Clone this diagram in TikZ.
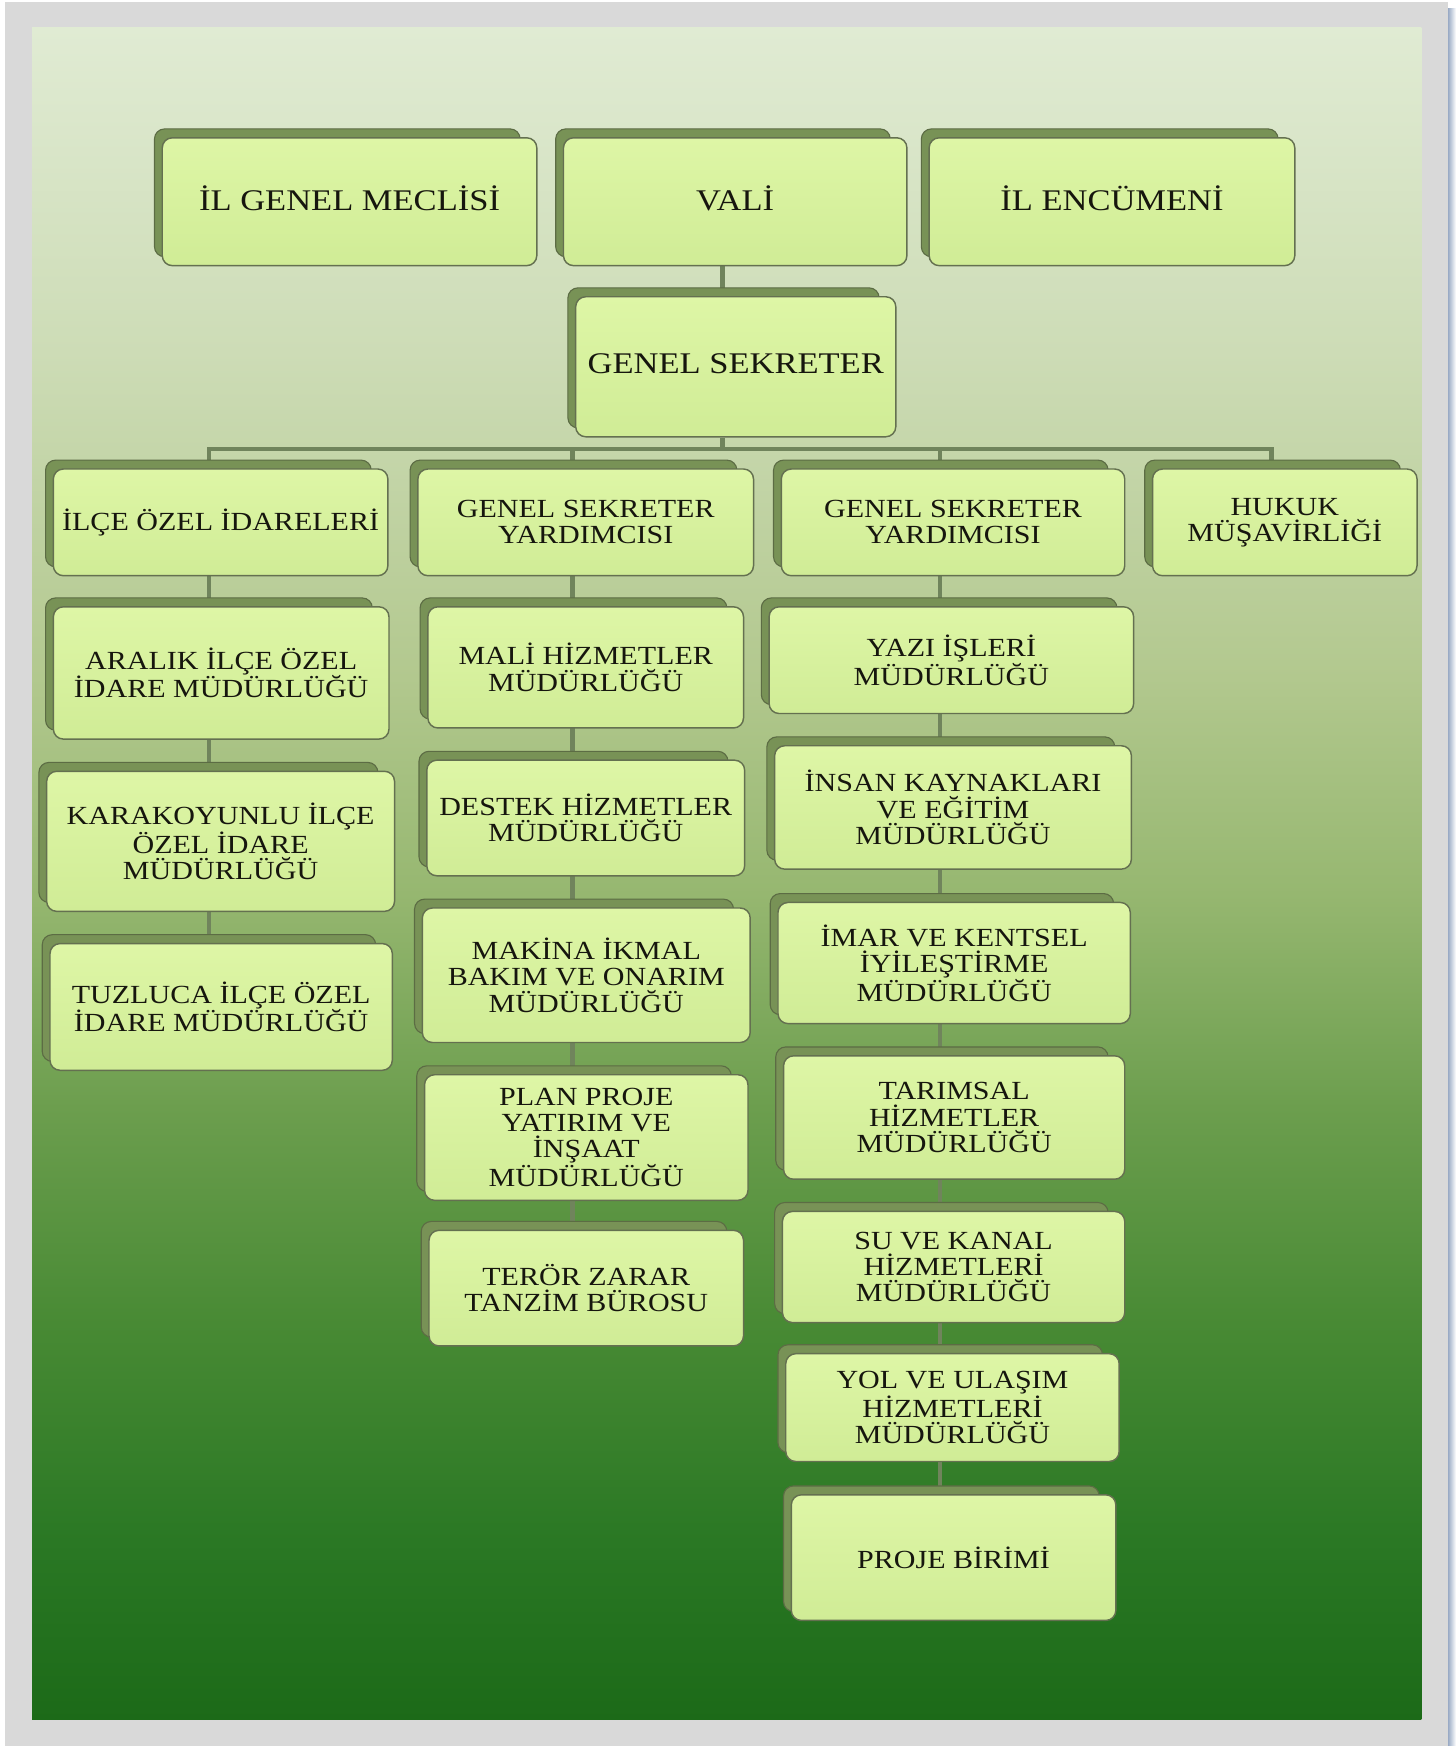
\documentclass[tikz,border=0pt]{standalone}
\usepackage{fontspec}
\setmainfont{Liberation Serif}[FakeStretch=1.15]
\usetikzlibrary{fit}
\definecolor{g1}{RGB}{224,235,211}
\definecolor{g2}{RGB}{205,220,182}
\definecolor{g3}{RGB}{178,200,142}
\definecolor{g4}{RGB}{150,183,112}
\definecolor{g5}{RGB}{108,158,78}
\definecolor{g6}{RGB}{72,138,52}
\definecolor{g7}{RGB}{42,120,36}
\definecolor{g8}{RGB}{28,106,24}
\definecolor{framegray}{RGB}{217,217,217}
\definecolor{edgeblue}{RGB}{155,172,198}
\definecolor{boxtop}{RGB}{222,246,166}
\definecolor{boxbot}{RGB}{208,236,150}
\definecolor{boxline}{RGB}{100,112,80}
\definecolor{backfill}{RGB}{120,146,86}
\definecolor{backline}{RGB}{92,108,68}
\definecolor{connc}{RGB}{112,132,92}
\definecolor{textc}{RGB}{22,22,14}
\pgfdeclareverticalshading{panelshade}{100bp}{color(0bp)=(g8); color(25bp)=(g8); color(30.3bp)=(g7); color(36.7bp)=(g6); color(43.1bp)=(g5); color(49.4bp)=(g4); color(55.8bp)=(g3); color(65.4bp)=(g2); color(75bp)=(g1); color(100bp)=(g1)}
\pgfdeclarelayer{bg}
\pgfsetlayers{bg,main}
\tikzset{
  frontbox/.style={draw=boxline, line width=1.3pt, rounded corners=9pt, top color=boxtop, bottom color=boxbot, inner sep=0pt},
  bigtext/.style={font=\fontsize{27}{28}\selectfont, align=center, text=textc, inner sep=0pt, yshift=3pt},
  smalltext/.style={font=\fontsize{23.5}{23.5}\selectfont, align=center, text=textc, inner sep=0pt},
  backbox/.style={fill=backfill, draw=backline, line width=1pt, rounded corners=9pt},
  conn/.style={draw=connc, line width=4pt}
}
\newcommand\orgbox[7][smalltext]{%
  \path[backbox] (#3-7,#4-8) rectangle (#5-15,#6-8);
  \path (#3,#4) coordinate (#2-a) (#5,#6) coordinate (#2-b);
  \node[frontbox,fit=(#2-a)(#2-b)] (#2) {};
  \node[#1] (#2-t) at (#2.center) {#7};
}
\begin{document}
\begin{tikzpicture}[x=1pt,y=-1pt]
\useasboundingbox (0,0) rectangle (1310,1571);
\begin{pgfonlayer}{bg}
\fill[white] (0,0) rectangle (1310,1571);
\fill[framegray] (4.5,2) rectangle (1303,1571);
\shade[left color=edgeblue, right color=white] (1303,8) rectangle (1310,1571);
\shade[shading=panelshade] (28.8,25) rectangle (1279,1547.5);
\end{pgfonlayer}
% top row
\orgbox[bigtext]{meclis}{146}{124}{483}{239}{İL GENEL MECLİSİ}
\orgbox[bigtext]{vali}{507}{124}{816}{239}{VALİ}
\orgbox[bigtext]{encumen}{836}{124}{1165}{239}{İL ENCÜMENİ}
\orgbox[bigtext]{gs}{518}{267}{806}{393}{GENEL SEKRETER}
% second row
\orgbox{ilce}{48}{422}{349}{518}{İLÇE ÖZEL İDARELERİ}
\orgbox{gsya}{376}{422}{678}{518}{GENEL SEKRETER\\YARDIMCISI}
\orgbox{gsyb}{703}{422}{1012}{518}{GENEL SEKRETER\\YARDIMCISI}
\orgbox{hukuk}{1037}{422}{1275}{518}{HUKUK\\MÜŞAVİRLİĞİ}
% column 1
\orgbox{aralik}{48}{546}{350}{665}{ARALIK İLÇE ÖZEL\\İDARE MÜDÜRLÜĞÜ}
\orgbox{karakoyunlu}{42}{694}{355}{820}{KARAKOYUNLU İLÇE\\ÖZEL İDARE\\MÜDÜRLÜĞÜ}
\orgbox{tuzluca}{45}{849}{353}{963}{TUZLUCA İLÇE ÖZEL\\İDARE MÜDÜRLÜĞÜ}
% column 2
\orgbox{mali}{385}{546}{669}{655}{MALİ HİZMETLER\\MÜDÜRLÜĞÜ}
\orgbox{destek}{384}{684}{670}{788}{DESTEK HİZMETLER\\MÜDÜRLÜĞÜ}
\orgbox{makina}{380}{817}{675}{938}{MAKİNA İKMAL\\BAKIM VE ONARIM\\MÜDÜRLÜĞÜ}
\orgbox{plan}{382}{967}{673}{1080}{PLAN PROJE\\YATIRIM VE\\İNŞAAT\\MÜDÜRLÜĞÜ}
\orgbox{teror}{386}{1107}{669}{1211}{TERÖR ZARAR\\TANZİM BÜROSU}
% column 3
\orgbox{yazi}{692}{546}{1020}{642}{YAZI İŞLERİ\\MÜDÜRLÜĞÜ}
\orgbox{insan}{697}{671}{1018}{782}{İNSAN KAYNAKLARI\\VE EĞİTİM\\MÜDÜRLÜĞÜ}
\orgbox{imar}{700}{812}{1017}{921}{İMAR VE KENTSEL\\İYİLEŞTİRME\\MÜDÜRLÜĞÜ}
\orgbox{tarim}{705}{950}{1012}{1061}{TARIMSAL\\HİZMETLER\\MÜDÜRLÜĞÜ}
\orgbox{su}{704}{1090}{1012}{1190}{SU VE KANAL\\HİZMETLERİ\\MÜDÜRLÜĞÜ}
\orgbox{yol}{707}{1218}{1007}{1315}{YOL VE ULAŞIM\\HİZMETLERİ\\MÜDÜRLÜĞÜ}
\orgbox{proje}{712}{1345}{1004}{1458}{PROJE BİRİMİ}
% connectors
\coordinate (k0) at (650,0);
\coordinate (k1) at (188,0);
\coordinate (k2) at (515,0);
\coordinate (k3) at (846,0);
\coordinate (k4) at (1144,0);
\coordinate (busy) at (0,404);
\begin{pgfonlayer}{bg}
\draw[conn] (vali.south -| k0) -- (gs.north -| k0);
\draw[conn] (gs.south -| k0) -- (busy -| k0);
\draw[conn] (ilce.north -| k1) -- (busy -| k1) -- (busy -| k4) -- (hukuk.north -| k4);
\draw[conn] (busy -| k2) -- (gsya.north -| k2);
\draw[conn] (busy -| k3) -- (gsyb.north -| k3);
\draw[conn] (ilce.south -| k1) -- (tuzluca.north -| k1);
\draw[conn] (gsya.south -| k2) -- (teror.north -| k2);
\draw[conn] (gsyb.south -| k3) -- (proje.north -| k3);
\end{pgfonlayer}
\end{tikzpicture}
\end{document}
